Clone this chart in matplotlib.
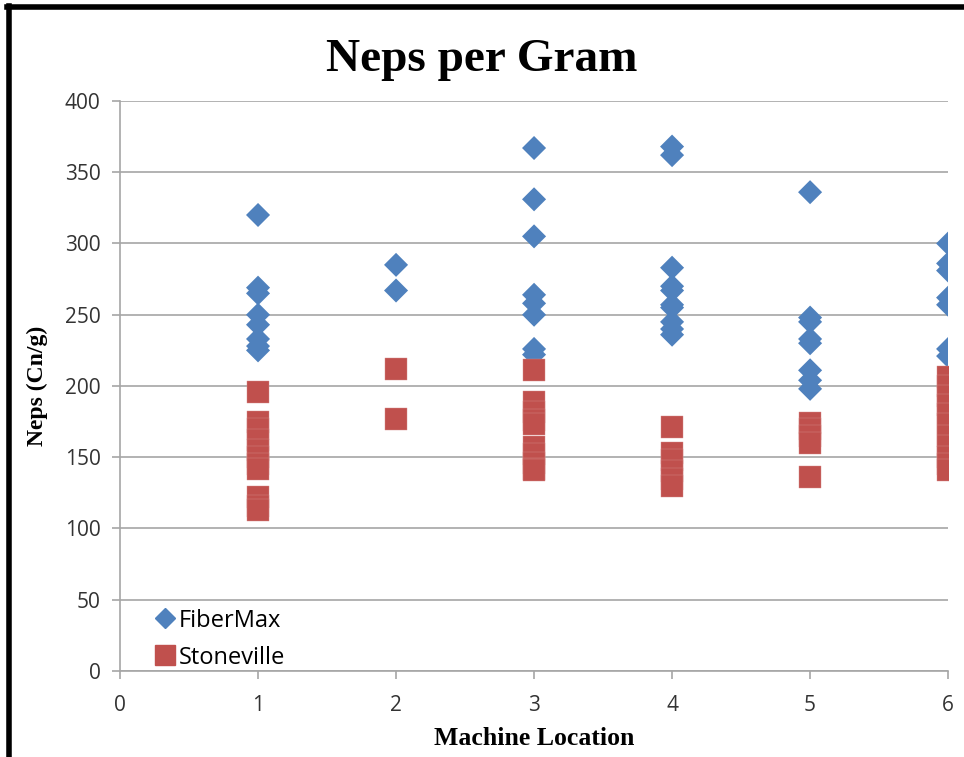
import numpy as np
import matplotlib
matplotlib.use("Agg")
import matplotlib.pyplot as plt
from matplotlib.lines import Line2D

# Neps per gram readings at each machine location
fibermax_x = [1] * 8 + [2] * 2 + [3] * 8 + [4] * 10 + [5] * 8 + [6] * 7
fibermax_y = [320, 269, 265, 250, 243, 233, 228, 225,
              285, 267,
              367, 331, 305, 264, 258, 250, 226, 222,
              368, 362, 283, 270, 267, 257, 255, 245, 240, 236,
              336, 248, 245, 233, 230, 211, 204, 198,
              300, 286, 281, 262, 257, 226, 221]

stoneville_x = [1] * 11 + [2] * 2 + [3] * 10 + [4] * 6 + [5] * 5 + [6] * 11
stoneville_y = [196, 175, 170, 162, 155, 150, 145, 142, 122, 116, 113,
                212, 177,
                211, 189, 182, 176, 173, 157, 152, 146, 142, 141,
                171, 153, 148, 140, 135, 130,
                174, 170, 165, 160, 136,
                206, 200, 193, 187, 180, 173, 165, 158, 150, 145, 141]

blue = "#4F81BD"
red = "#C0504D"
grid_col = "#A6A6A6"

fig = plt.figure(figsize=(9.64, 7.57), dpi=100)
ax = fig.add_axes([0.1245, 0.1136, 0.859, 0.753])

ax.scatter(fibermax_x, fibermax_y, marker="D", s=150, color=blue,
           edgecolors="none", zorder=3, label="FiberMax")
ax.scatter(stoneville_x, stoneville_y, marker="s", s=260, color=red,
           edgecolors="#D68A87", linewidths=0.3, zorder=3, label="Stoneville")

ax.set_xlim(0, 6)
ax.set_ylim(0, 400)
ax.set_xticks(range(0, 7))
ax.set_yticks(range(0, 401, 50))
ax.yaxis.grid(True, color=grid_col, lw=1.2)
ax.set_axisbelow(True)
for s in ["top", "right"]:
    ax.spines[s].set_visible(False)
for s in ["left", "bottom"]:
    ax.spines[s].set_color(grid_col)
    ax.spines[s].set_linewidth(1.2)
ax.tick_params(axis="both", colors=grid_col, labelcolor="#333333",
               labelsize=15, length=6, width=1.2, direction="out")
ax.tick_params(axis="x", pad=11)
ax.tick_params(axis="y", pad=8)
for lab in ax.get_xticklabels() + ax.get_yticklabels():
    lab.set_family("Open Sans")

ax.set_xlabel("Machine Location", fontsize=18.5, fontweight="bold",
              family="Liberation Serif", labelpad=8)
ax.set_ylabel("Neps (Cn/g)", fontsize=17, fontweight="bold",
              family="Liberation Serif", labelpad=12)
fig.suptitle("Neps per Gram", fontsize=34, fontweight="bold",
             family="Liberation Serif", y=0.948)

handles = [Line2D([], [], marker="D", ls="none", color=blue, markersize=10),
           Line2D([], [], marker="s", ls="none", color=red, markersize=14)]
ax.legend(handles, ["FiberMax", "Stoneville"], loc="lower left",
          bbox_to_anchor=(0.0, -0.035), frameon=False, handletextpad=-0.4,
          prop={"family": "Open Sans", "size": 17}, labelspacing=0.55)

# black frame on left and top edges
fig.add_artist(Line2D([0.009, 0.009], [0, 0.992], color="black", lw=4,
                      transform=fig.transFigure))
fig.add_artist(Line2D([0.007, 1.0], [0.991, 0.991], color="black", lw=4,
                      transform=fig.transFigure))

fig.savefig("out.png", dpi=100)
